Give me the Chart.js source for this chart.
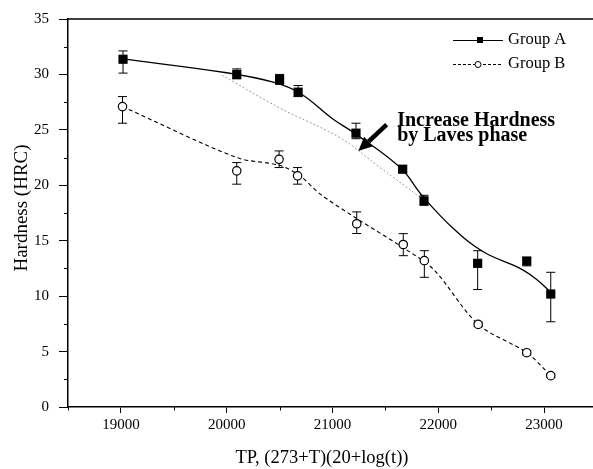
<!DOCTYPE html>
<html><head><meta charset="utf-8">
<script src="https://cdn.jsdelivr.net/npm/chart.js@4"></script>
<style>html,body{margin:0;padding:0;overflow:hidden;background:#fff;width:593px;height:469px}canvas{display:block}</style>
</head><body><canvas id="c" width="610" height="469"></canvas>
<script>
// ---- data ----
const seriesNames = ['Group A', 'Group B'];
const aX = [19020, 20095, 20500, 20675, 21222, 21663, 21865, 22372, 22836, 23063];
const aY = [31.37, 30.0, 29.55, 28.4, 24.7, 21.45, 18.6, 12.96, 13.17, 10.19];
const aErrHi = [0.75, 0.5, 0.45, 0.6, 0.9, 0.3, 0.5, 1.14, 0.3, 1.96];
const aErrLo = [1.25, 0.4, 0.45, 0.4, 0.5, 0.3, 0.4, 2.36, 0.44, 2.5];
const bX = [19015, 20095, 20495, 20670, 21229, 21669, 21868, 22377, 22836, 23063];
const bY = [27.1, 21.3, 22.34, 20.85, 16.53, 14.66, 13.2, 7.45, 4.9, 2.83];
const bErrHi = [0.9, 0.75, 0.76, 0.75, 1.07, 0.98, 0.9, 0.2, 0.2, 0.15];
const bErrLo = [1.5, 1.2, 0.74, 0.75, 0.88, 1.01, 1.5, 0.2, 0.2, 0.15];
// fitted curves
const fitAX = [19020, 20000, 20440, 20693, 21000, 21200, 21640, 21853, 22142, 22425, 22772, 22930, 23063];
const fitAY = [31.4, 30.15, 29.3, 28.3, 26.0, 24.75, 21.6, 19.0, 16.1, 14.0, 12.5, 11.5, 10.35];
const fitBX = [19015, 20095, 20500, 20693, 20885, 21229, 21663, 21956, 22377, 22836, 23063];
const fitBY = [27.1, 22.5, 21.8, 20.85, 19.2, 17.0, 14.4, 12.4, 7.45, 4.9, 2.83];
// faint reference line (hardness without Laves phase)
const refX = [19953, 20504, 21071, 21449, 21827];
const refY = [29.95, 26.96, 24.28, 21.6, 18.94];
// axis ticks
const xTickLabels = [19000, 20000, 21000, 22000, 23000];
const yTickLabels = [0, 5, 10, 15, 20, 25, 30, 35];
const annotationLines = ['Increase Hardness', 'by Laves phase'];
const xTitle = 'TP, (273+T)(20+log(t))';
const yTitle = 'Hardness (HRC)';

const pts = (xs, ys) => xs.map((x, i) => ({x: x, y: ys[i]}));
const SERIF = '"Liberation Serif", "Times New Roman", serif';

const annot = { textX: 21611, textY: 25.38, lineGap: 15.6, arrowFrom: [21512, 25.47], arrowTo: [21244, 23.09] };

const customPlugin = {
  id: 'custom',
  beforeDatasetsDraw(chart) {
    const ctx = chart.ctx, xs = chart.scales.x, ys = chart.scales.y;
    ctx.save();
    ctx.strokeStyle = '#000';
    ctx.lineWidth = 1;
    const bars = (X, Y, hi, lo) => {
      X.forEach((x, i) => {
        const px = xs.getPixelForValue(x);
        const top = ys.getPixelForValue(Y[i] + hi[i]);
        const bot = ys.getPixelForValue(Y[i] - lo[i]);
        ctx.beginPath();
        ctx.moveTo(px, top); ctx.lineTo(px, bot);
        ctx.moveTo(px - 4.5, top); ctx.lineTo(px + 4.5, top);
        ctx.moveTo(px - 4.5, bot); ctx.lineTo(px + 4.5, bot);
        ctx.stroke();
      });
    };
    bars(aX, aY, aErrHi, aErrLo);
    bars(bX, bY, bErrHi, bErrLo);
    ctx.restore();
  },
  afterDraw(chart) {
    const ctx = chart.ctx, xs = chart.scales.x, ys = chart.scales.y, ca = chart.chartArea;
    ctx.save();
    // top border
    ctx.strokeStyle = '#000';
    ctx.lineWidth = 1.5;
    ctx.beginPath(); ctx.moveTo(ca.left, ca.top); ctx.lineTo(ca.right, ca.top); ctx.stroke();
    // minor ticks
    ctx.lineWidth = 1;
    ctx.beginPath();
    for (let v = 2.5; v < 35; v += 5) {
      const py = Math.round(ys.getPixelForValue(v)) + 0.5;
      ctx.moveTo(ca.left, py); ctx.lineTo(ca.left - 4, py);
    }
    for (let v = 18500; v <= 23500; v += 1000) {
      const px = Math.round(xs.getPixelForValue(v)) + 0.5;
      ctx.moveTo(px, ca.bottom); ctx.lineTo(px, ca.bottom + 3.5);
    }
    ctx.stroke();
    // axis titles
    ctx.fillStyle = '#000';
    ctx.font = '18.5px ' + SERIF;
    ctx.textAlign = 'center';
    ctx.textBaseline = 'alphabetic';
    ctx.fillText(xTitle, 322, 463);
    ctx.save();
    ctx.translate(27, 208);
    ctx.rotate(-Math.PI / 2);
    ctx.font = '19px ' + SERIF;
    ctx.fillText(yTitle, 0, 0);
    ctx.restore();
    // legend
    ctx.textAlign = 'left';
    ctx.font = '16.5px ' + SERIF;
    ctx.fillText(seriesNames[0], 508, 44);
    ctx.fillText(seriesNames[1], 508, 68);
    ctx.lineWidth = 1;
    ctx.beginPath(); ctx.moveTo(453, 40.5); ctx.lineTo(503, 40.5); ctx.stroke();
    ctx.fillRect(477, 37, 6, 6);
    ctx.setLineDash([3, 2]);
    ctx.beginPath(); ctx.moveTo(453, 64.5); ctx.lineTo(503, 64.5); ctx.stroke();
    ctx.setLineDash([]);
    ctx.fillStyle = '#fff';
    ctx.beginPath(); ctx.arc(478, 64.5, 3, 0, Math.PI * 2); ctx.fill(); ctx.stroke();
    // annotation text
    ctx.fillStyle = '#000';
    ctx.font = 'bold 20px ' + SERIF;
    const tx = xs.getPixelForValue(annot.textX), ty = ys.getPixelForValue(annot.textY);
    ctx.fillText(annotationLines[0], tx, ty);
    ctx.fillText(annotationLines[1], tx, ty + annot.lineGap);
    // arrow
    const x0 = xs.getPixelForValue(annot.arrowFrom[0]), y0 = ys.getPixelForValue(annot.arrowFrom[1]);
    const x1 = xs.getPixelForValue(annot.arrowTo[0]), y1 = ys.getPixelForValue(annot.arrowTo[1]);
    const ang = Math.atan2(y1 - y0, x1 - x0);
    const hl = 14, hw = 6.5;
    const bx = x1 - hl * Math.cos(ang), by = y1 - hl * Math.sin(ang);
    ctx.strokeStyle = '#000';
    ctx.lineWidth = 4.5;
    ctx.beginPath(); ctx.moveTo(x0, y0); ctx.lineTo(bx, by); ctx.stroke();
    ctx.beginPath();
    ctx.moveTo(x1, y1);
    ctx.lineTo(bx + hw * Math.sin(ang), by - hw * Math.cos(ang));
    ctx.lineTo(bx - hw * Math.sin(ang), by + hw * Math.cos(ang));
    ctx.closePath(); ctx.fill();
    ctx.restore();
  }
};

new Chart(document.getElementById('c'), {
  type: 'scatter',
  data: {
    datasets: [
      { label: seriesNames[0], data: pts(aX, aY), showLine: false, pointStyle: 'rect', pointRadius: 6.5,
        backgroundColor: '#000', borderColor: '#000', borderWidth: 0 },
      { label: seriesNames[1], data: pts(bX, bY), showLine: false, pointStyle: 'circle', pointRadius: 4.2,
        backgroundColor: '#fff', borderColor: '#000', borderWidth: 1.2 },
      { label: 'fitA', data: pts(fitAX, fitAY), showLine: true, pointRadius: 0, borderColor: '#000',
        borderWidth: 1.3, tension: 0.4 },
      { label: 'fitB', data: pts(fitBX, fitBY), showLine: true, pointRadius: 0, borderColor: '#000',
        borderWidth: 1.1, borderDash: [4, 3], tension: 0.3 },
      { label: 'ref', data: pts(refX, refY), showLine: true, pointRadius: 0, borderColor: '#9a9a9a',
        borderWidth: 1, borderDash: [2, 2], tension: 0.4 }
    ]
  },
  options: {
    responsive: false,
    animation: false,
    layout: { padding: { left: 0, top: 15, right: 13, bottom: 0 } },
    plugins: { legend: { display: false }, tooltip: { enabled: false } },
    scales: {
      x: {
        type: 'linear', min: 18500, max: 23500,
        afterFit: s => { s.height = 62; },
        afterBuildTicks: s => { s.ticks = xTickLabels.map(v => ({ value: v })); },
        border: { display: true, color: '#000', width: 1.5 },
        grid: { drawOnChartArea: false, drawTicks: true, tickLength: 6, tickColor: '#000', tickWidth: 1 },
        ticks: { autoSkip: false, maxRotation: 0, padding: 3, color: '#000',
          font: { family: SERIF, size: 15 },
          callback: v => String(v) }
      },
      y: {
        type: 'linear', min: 0, max: 35,
        afterFit: s => { s.width = 68; },
        afterBuildTicks: s => { s.ticks = yTickLabels.map(v => ({ value: v })); },
        border: { display: true, color: '#000', width: 1.5 },
        grid: { drawOnChartArea: false, drawTicks: true, tickLength: 9, tickColor: '#000', tickWidth: 1 },
        ticks: { autoSkip: false, padding: 10, color: '#000',
          font: { family: SERIF, size: 15 },
          callback: v => String(v) }
      }
    }
  },
  plugins: [customPlugin]
});
</script>
</body></html>
